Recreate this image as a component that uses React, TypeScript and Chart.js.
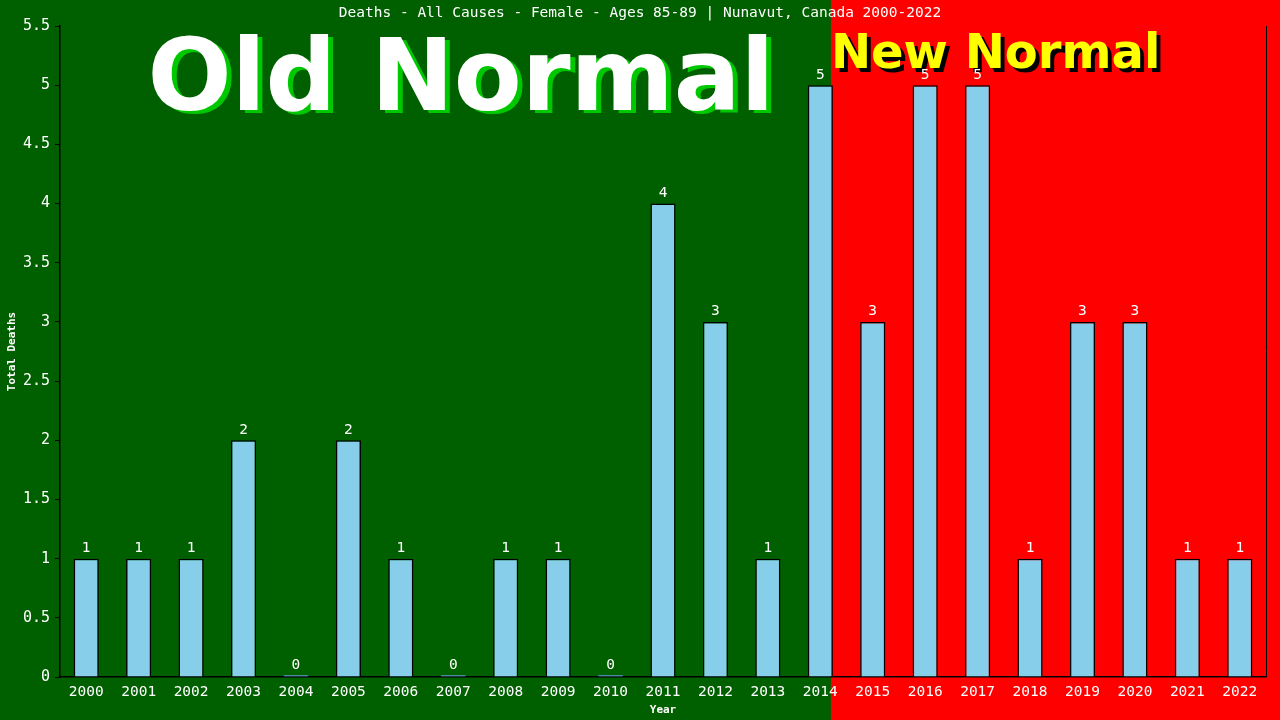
import React, { useEffect, useRef } from 'react';
import { Chart, registerables } from 'chart.js';

Chart.register(...registerables);

const years = [
  '2000', '2001', '2002', '2003', '2004', '2005', '2006', '2007', '2008', '2009', '2010', '2011',
  '2012', '2013', '2014', '2015', '2016', '2017', '2018', '2019', '2020', '2021', '2022',
];
const deaths = [1, 1, 1, 2, 0, 2, 1, 0, 1, 1, 0, 4, 3, 1, 5, 3, 5, 5, 1, 3, 3, 1, 1];
const lastOldNormalIndex = 14; // 2014 is the last "old normal" year

const chartTitle = 'Deaths - All Causes - Female - Ages 85-89 | Nunavut, Canada 2000-2022';
const mono = '"DejaVu Sans Mono", monospace';
const heavy = '"DejaVu Sans", Verdana, sans-serif';

const GREEN = 'rgb(0,96,0)';
const RED = 'rgb(255,0,0)';

const splitX = (chart: Chart) => {
  const bar: any = chart.getDatasetMeta(0).data[lastOldNormalIndex];
  return bar ? bar.x + bar.width / 2 - 2 : chart.width / 2;
};

// background halves, big captions, title, right border and value labels
const decorPlugin = {
  id: 'decor',
  beforeDraw(chart: Chart) {
    const { ctx, width, height } = chart;
    const split = splitX(chart);
    ctx.save();
    ctx.fillStyle = GREEN;
    ctx.fillRect(0, 0, width, height);
    ctx.fillStyle = RED;
    ctx.fillRect(split, 0, width - split, height);

    ctx.fillStyle = '#fff';
    ctx.font = `14.5px ${mono}`;
    ctx.textAlign = 'center';
    ctx.textBaseline = 'middle';
    ctx.fillText(chartTitle, width / 2, 13);
    ctx.restore();
  },
  beforeDatasetsDraw(chart: Chart) {
    const { ctx } = chart;
    const split = splitX(chart);
    ctx.save();
    ctx.textBaseline = 'alphabetic';
    ctx.textAlign = 'center';
    ctx.font = `bold 99px ${heavy}`;
    ctx.fillStyle = 'rgb(0,200,0)';
    ctx.fillText('Old Normal', 466, 113);
    ctx.fillStyle = '#fff';
    ctx.fillText('Old Normal', 461, 110);

    ctx.textAlign = 'left';
    ctx.font = `bold 48px ${heavy}`;
    ctx.fillStyle = '#000';
    ctx.fillText('New Normal', split + 4, 72);
    ctx.fillStyle = 'rgb(255,255,0)';
    ctx.fillText('New Normal', split, 68);

    const a = chart.chartArea;
    ctx.strokeStyle = '#000';
    ctx.lineWidth = 1;
    ctx.beginPath();
    ctx.moveTo(a.right + 0.5, a.top);
    ctx.lineTo(a.right + 0.5, a.bottom);
    ctx.stroke();
    ctx.restore();
  },
  afterDatasetsDraw(chart: Chart) {
    const { ctx } = chart;
    const meta = chart.getDatasetMeta(0);
    ctx.save();
    ctx.fillStyle = '#fff';
    ctx.font = `14.5px ${mono}`;
    ctx.textAlign = 'center';
    ctx.textBaseline = 'bottom';
    meta.data.forEach((el: any, i: number) => {
      ctx.fillText(String(deaths[i]), el.x, el.y - 3);
    });
    ctx.restore();
  },
};

const App: React.FC = () => {
  const canvasRef = useRef<HTMLCanvasElement | null>(null);
  const chartInstance = useRef<Chart | null>(null);

  useEffect(() => {
    if (!canvasRef.current) return;
    const ctx = canvasRef.current.getContext('2d');
    if (!ctx) return;

    if (chartInstance.current) {
      chartInstance.current.destroy();
    }

    chartInstance.current = new Chart(ctx, {
      type: 'bar',
      data: {
        labels: years,
        datasets: [
          {
            label: 'Total Deaths',
            data: deaths,
            backgroundColor: '#87CEEB',
            borderColor: deaths.map((v) => (v === 0 ? 'steelblue' : '#000')),
            borderWidth: 1.5,
            minBarLength: 2,
            barPercentage: 0.48,
            categoryPercentage: 1,
          },
        ],
      },
      options: {
        responsive: false,
        animation: false,
        devicePixelRatio: 1,
        layout: { padding: { top: 26, right: 14, left: 0, bottom: 0 } },
        plugins: {
          legend: { display: false },
          title: { display: false },
          tooltip: { enabled: false },
        },
        scales: {
          x: {
            grid: { display: false, drawTicks: false },
            border: { color: '#000', width: 1.5 },
            ticks: { color: '#fff', font: { family: mono, size: 14.5 }, padding: 7, maxRotation: 0 },
            title: {
              display: true,
              text: 'Year',
              color: '#fff',
              font: { family: mono, size: 11, weight: 'bold' },
              padding: { top: 0, bottom: 3 },
            },
            afterFit: (scale: any) => {
              scale.height = 43;
            },
          },
          y: {
            min: 0,
            max: 5.5,
            grid: { drawOnChartArea: false, color: '#000', tickLength: 5 },
            border: { color: '#000', width: 1.5 },
            ticks: {
              stepSize: 0.5,
              color: '#fff',
              font: { family: mono, size: 15 },
              padding: 5,
              callback: (value: any) => String(Number(value)),
            },
            title: {
              display: true,
              text: 'Total Deaths',
              color: '#fff',
              font: { family: mono, size: 11, weight: 'bold' },
              padding: { top: 6, bottom: 0 },
            },
            afterFit: (scale: any) => {
              scale.width = 60;
            },
          },
        },
      },
      plugins: [decorPlugin],
    });

    return () => {
      if (chartInstance.current) {
        chartInstance.current.destroy();
        chartInstance.current = null;
      }
    };
  }, []);

  return (
    <div style={{ position: 'fixed', left: 0, top: 0, width: 1280, height: 720 }}>
      <canvas ref={canvasRef} width={1280} height={720} />
    </div>
  );
};

export default App;
